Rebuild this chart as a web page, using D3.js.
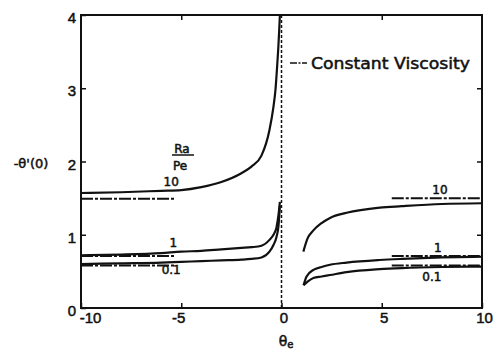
<!DOCTYPE html>
<html>
<head>
<meta charset="utf-8">
<script src="https://cdn.jsdelivr.net/npm/d3@7"></script>
<style>
  body { margin: 0; background: #fff; }
  svg { display: block; font-family: "DejaVu Sans", sans-serif; }
  .axis path { display: none; }
  .axis line { stroke: #111; stroke-width: 1.5px; }
  .axis text { font-size: 15px; fill: #111; stroke: #111; stroke-width: 0.5px; }
</style>
</head>
<body>
<svg width="494" height="353"></svg>
<script>
// variable viscosity, theta_e < 0
var left10Theta = [-10, -8, -6, -5, -4, -3, -2, -1.5, -1, -0.6, -0.4, -0.3, -0.22, -0.15, -0.11, -0.08];
var left10Value = [1.57, 1.58, 1.60, 1.61, 1.65, 1.72, 1.84, 1.93, 2.08, 2.43, 2.75, 2.98, 3.29, 3.6, 3.82, 4.0];
var left1Theta = [-10, -8, -6, -5, -4, -3, -2, -1.5, -1, -0.6, -0.4, -0.25, -0.15, -0.08];
var left1Value = [0.72, 0.73, 0.75, 0.77, 0.78, 0.80, 0.82, 0.83, 0.85, 0.93, 1.0, 1.10, 1.27, 1.45];
var left01Theta = [-10, -8, -6, -5, -4, -3, -2, -1.5, -1, -0.6, -0.4, -0.25, -0.15, -0.08];
var left01Value = [0.60, 0.61, 0.62, 0.63, 0.64, 0.65, 0.66, 0.67, 0.69, 0.77, 0.86, 0.97, 1.12, 1.40];

// variable viscosity, theta_e > 0
var right10Theta = [1.09, 1.3, 1.59, 2, 2.42, 3.25, 4.9, 6, 8, 10];
var right10Value = [0.77, 0.95, 1.06, 1.16, 1.23, 1.30, 1.37, 1.39, 1.42, 1.43];
var right1Theta = [1.1, 1.25, 1.59, 2, 2.42, 3.25, 4.9, 6, 8, 10];
var right1Value = [0.31, 0.43, 0.52, 0.56, 0.59, 0.62, 0.655, 0.67, 0.69, 0.70];
var right01Theta = [1.1, 1.3, 1.59, 2, 2.42, 3.25, 4.9, 6, 8, 10];
var right01Value = [0.31, 0.36, 0.41, 0.43, 0.45, 0.49, 0.53, 0.545, 0.56, 0.565];

// constant viscosity levels (Ra/Pe = 10, 1, 0.1)
var constLevels = ["10", "1", "0.1"];
var constLeft = [1.49, 0.71, 0.58];
var constRight = [1.50, 0.71, 0.58];
var constLeftRange = [-10, -5.3];
var constRightRange = [5.5, 10];

var xTicks = [-10, -5, 0, 5, 10];
var yTicks = [0, 1, 2, 3, 4];

var svg = d3.select("svg");
var x = d3.scaleLinear().domain([-10, 10]).range([81, 482]);
var y = d3.scaleLinear().domain([0, 4]).range([308, 15]);

// frame
svg.append("rect")
    .attr("x", x(-10)).attr("y", y(4))
    .attr("width", x(10) - x(-10)).attr("height", y(0) - y(4))
    .style("fill", "none").style("stroke", "#111").style("stroke-width", 2);

// axes with inward ticks
svg.append("g").attr("class", "axis")
    .attr("transform", "translate(" + x(-10) + ",0)")
    .call(d3.axisLeft(y).tickValues(yTicks).tickSize(-5).tickPadding(5).tickFormat(String))
    .selectAll("text").attr("dy", "0.5em");
svg.append("g").attr("class", "axis")
    .attr("transform", "translate(" + x(10) + ",0)")
    .call(d3.axisRight(y).tickValues([1, 2, 3]).tickSize(-5).tickFormat(""));
svg.append("g").attr("class", "axis")
    .attr("transform", "translate(0," + y(0) + ")")
    .call(d3.axisBottom(x).tickValues(xTicks).tickSize(-5).tickPadding(4).tickFormat(String))
    .selectAll("text").attr("dx", function(d) { return d === -10 ? 9 : (d === -5 ? -3 : 2); });
svg.append("g").attr("class", "axis")
    .attr("transform", "translate(0," + y(4) + ")")
    .call(d3.axisTop(x).tickValues([-5, 5]).tickSize(-5).tickFormat(""));

// dashed line at theta_e = 0
svg.append("line")
    .attr("x1", x(0)).attr("x2", x(0)).attr("y1", y(0)).attr("y2", y(4))
    .style("stroke", "#111").style("stroke-width", 1.5).style("stroke-dasharray", "3,2");

var line = d3.line()
    .x(function(d) { return x(d[0]); })
    .y(function(d) { return y(d[1]); })
    .curve(d3.curveMonotoneX);

var solid = [
  [left10Theta, left10Value], [left1Theta, left1Value], [left01Theta, left01Value],
  [right10Theta, right10Value], [right1Theta, right1Value], [right01Theta, right01Value]
];
solid.forEach(function(s) {
  svg.append("path")
      .datum(d3.zip(s[0], s[1]))
      .attr("d", line)
      .style("fill", "none").style("stroke", "#111").style("stroke-width", 2.2);
});

// constant viscosity (dash-dot)
constLevels.forEach(function(lv, i) {
  [[constLeftRange, constLeft[i]], [constRightRange, constRight[i]]].forEach(function(c) {
    svg.append("path")
        .datum(c[0].map(function(t) { return [t, c[1]]; }))
        .attr("d", d3.line().x(function(d) { return x(d[0]); }).y(function(d) { return y(d[1]); }))
        .style("fill", "none").style("stroke", "#111").style("stroke-width", 2)
        .style("stroke-dasharray", "12,2,3,2");
  });
});

// legend
svg.append("line")
    .attr("x1", 290).attr("x2", 307).attr("y1", 63).attr("y2", 63)
    .style("stroke", "#111").style("stroke-width", 1.5).style("stroke-dasharray", "7,1.5,2,1.5");
svg.append("text")
    .attr("x", 311).attr("y", 69)
    .attr("textLength", 159).attr("lengthAdjust", "spacingAndGlyphs")
    .style("font-size", "15.5px").style("fill", "#111").style("stroke", "#111").style("stroke-width", 0.5)
    .text("Constant Viscosity");

// curve labels
var labelStyle = function(t) {
  t.style("font-size", "12px").style("fill", "#111").style("stroke", "#111").style("stroke-width", 0.5)
   .attr("text-anchor", "middle");
};
var curveLabels = [
  ["10", -5.5, 1.66], ["1", -5.4, 0.83], ["0.1", -5.5, 0.46],
  ["10", 7.9, 1.55], ["1", 7.8, 0.76], ["0.1", 7.5, 0.37]
];
curveLabels.forEach(function(c) {
  svg.append("text").attr("x", x(c[1])).attr("y", y(c[2])).text(c[0]).call(labelStyle);
});

// Ra/Pe
svg.append("text").attr("x", 182).attr("y", 153).text("Ra").call(labelStyle);
svg.append("line").attr("x1", 172).attr("x2", 194).attr("y1", 155).attr("y2", 155)
    .style("stroke", "#111").style("stroke-width", 1.5);
svg.append("text").attr("x", 180).attr("y", 170).text("Pe").call(labelStyle);

// axis titles
svg.append("text").attr("x", 31).attr("y", 168).text("-θ'(0)")
    .style("font-size", "13px").style("fill", "#111").style("stroke", "#111").style("stroke-width", 0.5)
    .attr("text-anchor", "middle");
var xt = svg.append("text").attr("x", 286).attr("y", 346)
    .style("font-size", "14px").style("fill", "#111").style("stroke", "#111").style("stroke-width", 0.5)
    .attr("text-anchor", "middle");
xt.append("tspan").text("θ");
xt.append("tspan").attr("dy", 2).style("font-size", "10px").text("e");
</script>
</body>
</html>
